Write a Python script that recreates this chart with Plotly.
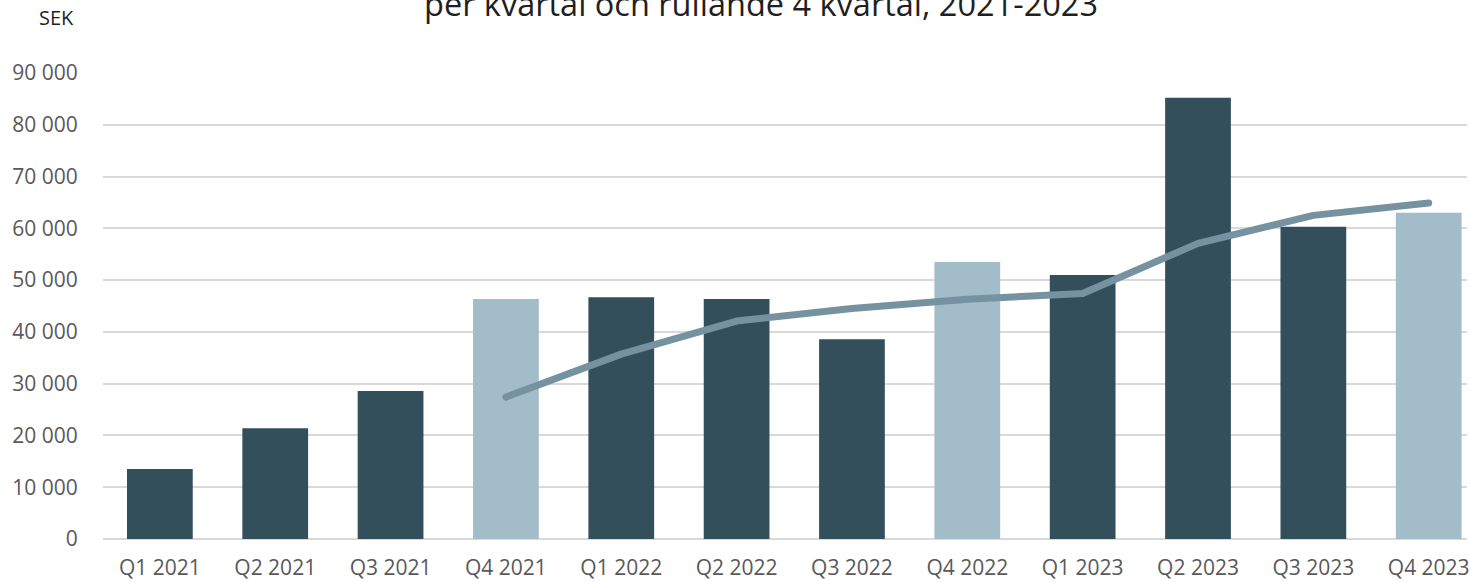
import plotly.graph_objects as go

categories = ["Q1 2021", "Q2 2021", "Q3 2021", "Q4 2021", "Q1 2022", "Q2 2022",
              "Q3 2022", "Q4 2022", "Q1 2023", "Q2 2023", "Q3 2023", "Q4 2023"]
quarter_values = [13500, 21400, 28600, 46350, 46700, 46350, 38600, 53500, 51000, 85200, 60300, 63000]
rolling_values = [None, None, None, 27400, 35700, 42100, 44500, 46300, 47400, 57100, 62500, 64900]
bar_colors = ["#344F5C", "#344F5C", "#344F5C", "#A2BCCA", "#344F5C", "#344F5C",
              "#344F5C", "#A2BCCA", "#344F5C", "#344F5C", "#344F5C", "#A2BCCA"]
y_ticks = [0, 10000, 20000, 30000, 40000, 50000, 60000, 70000, 80000, 90000]
y_tick_labels = ["0", "10 000", "20 000", "30 000", "40 000", "50 000",
                 "60 000", "70 000", "80 000", "90 000"]

FONT = "Open Sans"
TXT = "#595959"

fig = go.Figure()
fig.add_trace(go.Bar(x=list(range(len(categories))), y=quarter_values,
                     marker=dict(color=bar_colors, line=dict(width=0)),
                     width=0.57, showlegend=False, hoverinfo="skip"))
fig.add_trace(go.Scatter(x=list(range(len(categories))), y=rolling_values,
                         mode="lines", line=dict(color="#7692A0", width=7),
                         connectgaps=False, showlegend=False, hoverinfo="skip"))

fig.update_layout(
    width=1470, height=582,
    margin=dict(l=103, r=0, t=73, b=43),
    paper_bgcolor="white", plot_bgcolor="white",
    font=dict(family=FONT, color=TXT, size=21),
    xaxis=dict(range=[-0.493, 11.332], tickmode="array",
               tickvals=list(range(len(categories))), ticktext=categories,
               showgrid=False, zeroline=False, showline=False,
               ticks="outside", ticklen=10, tickcolor="rgba(0,0,0,0)",
               ticklabeloverflow="allow",
               tickfont=dict(family=FONT, size=21, color=TXT)),
    yaxis=dict(range=[0, 90000], tickmode="array", tickvals=y_ticks,
               ticktext=y_tick_labels, showgrid=True, gridcolor="#D9D9D9",
               gridwidth=1.5, zeroline=True, zerolinecolor="#D9D9D9",
               zerolinewidth=1.5, showline=False,
               ticks="outside", ticklen=20, tickcolor="rgba(0,0,0,0)",
               tickfont=dict(family=FONT, size=21, color=TXT)),
    annotations=[
        dict(text="SEK", xref="paper", yref="paper", x=(56 - 103) / 1367, y=1.0,
             xanchor="center", yanchor="bottom", yshift=40,
             showarrow=False, font=dict(family=FONT, size=20, color="#1F1F1F")),
        dict(text="per kvartal och rullande 4 kvartal, 2021-2023", xref="paper", yref="paper",
             x=(762 - 103) / 1367, y=1.0, xanchor="center", yanchor="bottom", yshift=45,
             showarrow=False, font=dict(family=FONT, size=32.5, color="#1F1F1F")),
    ],
)

post = (
    "document.body.style.margin='0';document.body.style.overflow='hidden';"
    "document.querySelectorAll('.scatterlayer path.js-line').forEach(function(p){"
    "p.style.strokeLinecap='round';p.style.strokeLinejoin='round';});"
)
fig.write_html("out.html", config={"displayModeBar": False}, post_script=post)
